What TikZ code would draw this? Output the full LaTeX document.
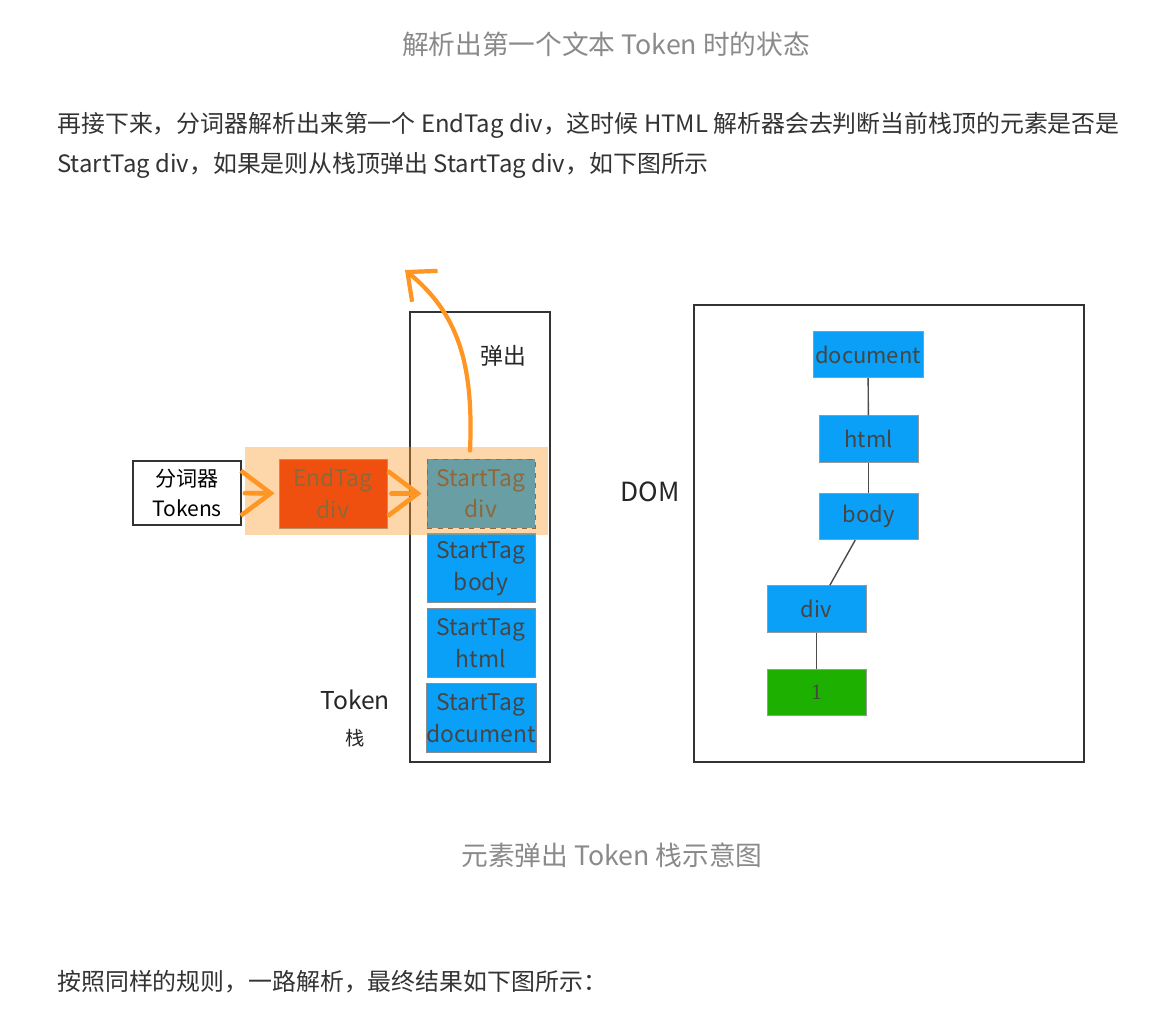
\documentclass[tikz,border=0pt]{standalone}
\usepackage{fontspec}
\setmainfont{Noto Sans CJK SC}
\newfontfamily\oneserif{Liberation Serif}
\usepackage{xcolor}
\usepackage{tikz}
\usetikzlibrary{positioning,arrows.meta}
\definecolor{boxblue}{HTML}{0AA0F7}
\definecolor{boxgreen}{HTML}{1DB000}
\definecolor{endred}{HTML}{E81E00}
\definecolor{bandorange}{HTML}{FA9D2A}
\definecolor{arrorange}{HTML}{FF9522}
\definecolor{captgray}{HTML}{8A8A8A}
\definecolor{bodytext}{HTML}{333333}

\begin{document}
\begin{tikzpicture}[
  x=0.02cm, y=-0.02cm,
  stk/.style={draw=black!45, line width=0.5pt, fill=boxblue, text=black!73, align=center,
    font=\fontsize{13}{18}\selectfont, minimum width=2.16cm, minimum height=1.38cm, inner sep=0pt},
  dom/.style={draw=black!40, line width=0.5pt, fill=boxblue, text=black!73, align=center,
    font=\fontsize{12.5}{16}\selectfont, minimum width=1.98cm, minimum height=0.93cm, inner sep=0pt},
  frame/.style={draw=black!80, line width=1.3pt, inner sep=0pt},
  lbl/.style={font=\fontsize{13}{16}\selectfont, text=black!85},
  para/.style={anchor=west, font=\fontsize{13.6}{16}\selectfont, text=bodytext, inner sep=0pt},
  capt/.style={font=\fontsize{15.2}{18}\selectfont, text=captgray, inner sep=0pt},
  feed/.style={draw=arrorange, line width=2.6pt, line cap=round,
    -{Straight Barb[length=0.6cm, width=0.9cm]}},
  pop/.style={draw=arrorange, line width=2.4pt, line cap=round,
    -{Straight Barb[length=0.45cm, width=0.8cm]}},
  link/.style={draw=black!70, line width=0.8pt}
]
\fill[white] (0,0) rectangle (1155,1013);
\useasboundingbox (0,0) rectangle (1155,1013);

\node[capt] (Title) at (606,44) {解析出第一个文本 Token 时的状态};
\node[para] (Line1) at (57,125) {再接下来，分词器解析出来第一个 EndTag div，这时候 HTML 解析器会去判断当前栈顶的元素是否是};
\node[para] (Line2) at (57,165) {StartTag div，如果是则从栈顶弹出 StartTag div，如下图所示};

\node[frame, minimum width=2.8cm, minimum height=9cm] (Stack) at (480,537) {};
\node[frame, minimum width=7.8cm, minimum height=9.14cm] (Dom) at (889,533.5) {};

\node[draw=black!80, line width=1pt, fill=white, align=center, font=\fontsize{12}{17.5}\selectfont,
  minimum width=2.16cm, minimum height=1.28cm, inner sep=0pt] (Tok) at (187,493) {分词器\\Tokens};
\node[stk, fill=endred] (EndTag) at (333,493.5) {EndTag\\div};
\node[stk, draw=black!70, dashed] (SDiv) at (481,493.5) {StartTag\\div};
\node[stk, below=0.1cm of SDiv] (SBody) {StartTag\\body};
\node[stk, below=0.1cm of SBody] (SHtml) {StartTag\\html};
\node[stk, below=0.1cm of SHtml] (SDoc) {StartTag\\document};

\fill[bandorange, fill opacity=0.4] (245,447) rectangle (548,535);

\node[lbl] (Pop) at (503,356) {弹出};
\node[lbl, font=\fontsize{14}{16}\selectfont] (TokLbl) at (355,700) {Token};
\node[lbl, font=\fontsize{11}{14}\selectfont] (StackLbl) at (355,738) {栈};
\node[lbl, font=\fontsize{15}{18}\selectfont] (DomLbl) at (650,492) {DOM};

\draw[feed, shorten <=0.06cm, shorten >=0.08cm] (Tok) -- (EndTag);
\draw[feed, shorten <=0.08cm, shorten >=0.1cm] (EndTag) -- (SDiv);
\coordinate (PopEnd) at (405,270);
\draw[pop] ([xshift=-0.22cm, yshift=0.16cm]SDiv.north) .. controls (474,360) and (456,312) .. (PopEnd);

\node[dom, minimum width=2.2cm] (Doc) at (868,354.5) {document};
\node[dom] (Html) at (868.5,439) {html};
\node[dom] (Body) at (868.5,516.5) {body};
\node[dom] (Div) at (816.5,609) {div};
\node[dom, fill=boxgreen] (One) at (816.5,692.5) {\oneserif 1};

\draw[link] (Doc) -- (Html);
\draw[link] (Html) -- (Body);
\draw[link] (Body) -- (Div);
\draw[link] (Div) -- (One);

\node[capt] (Caption) at (612,855) {元素弹出 Token 栈示意图};
\node[para] (Line3) at (57,982) {按照同样的规则，一路解析，最终结果如下图所示：};
\end{tikzpicture}
\end{document}
